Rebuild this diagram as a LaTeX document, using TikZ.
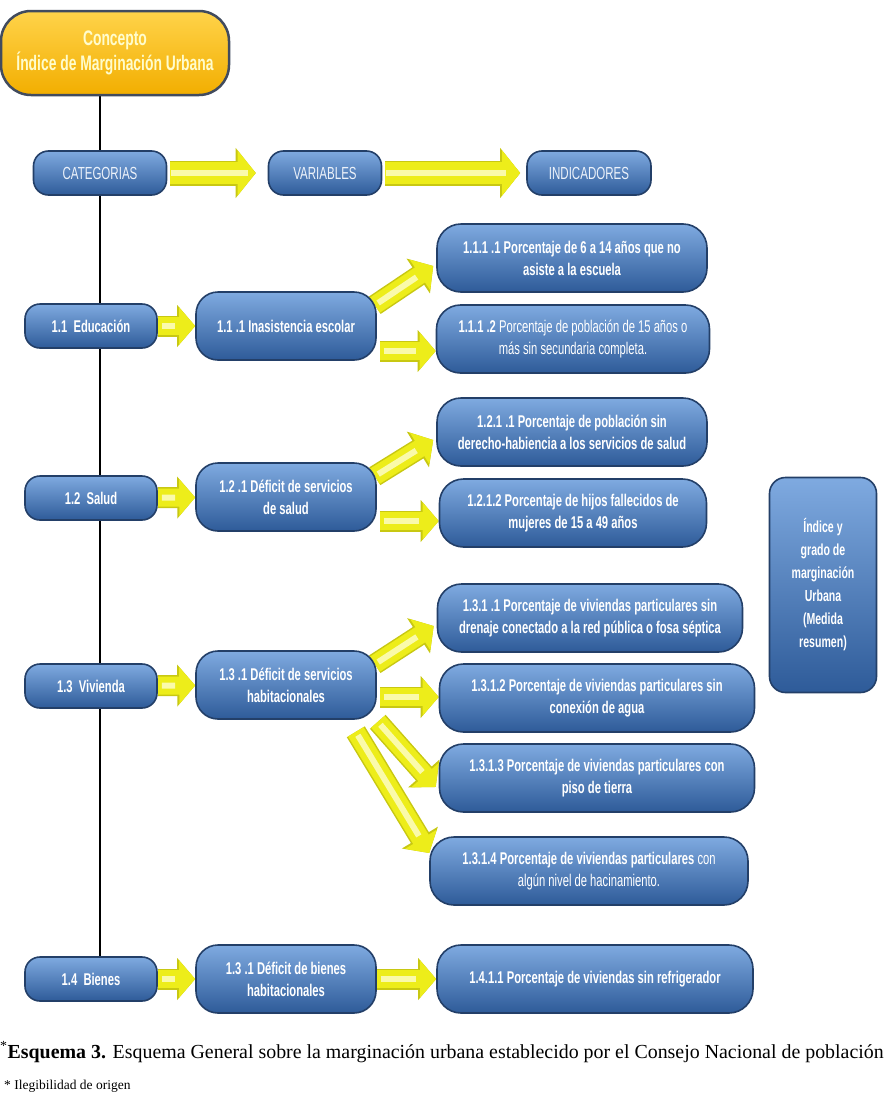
\documentclass[tikz,border=0pt]{standalone}
\usepackage{fontspec}
\setmainfont{Liberation Serif}
\newfontfamily\boxfont[FakeStretch=0.66]{Liberation Sans}
\usetikzlibrary{arrows.meta,backgrounds}

\definecolor{boxtop}{HTML}{7FAAE0}
\definecolor{boxmid}{HTML}{4A7DC0}
\definecolor{boxbot}{HTML}{2E5B99}
\definecolor{boxline}{HTML}{233F68}
\definecolor{goldtop}{HTML}{FFD34A}
\definecolor{goldbot}{HTML}{F2AE00}
\definecolor{goldline}{HTML}{414B5E}
\definecolor{arrowyel}{HTML}{EDED1A}
\definecolor{arrowedge}{HTML}{C8C812}
\definecolor{arrowlight}{HTML}{FAFAAA}

\begin{document}
\begin{tikzpicture}[x=1pt, y=-1pt,
    box/.style={rectangle, draw=boxline, line width=1.6pt, top color=boxtop, middle color=boxmid, bottom color=boxbot,
        text=white, align=center, inner sep=2pt, font=\boxfont\bfseries\fontsize{17}{22}\selectfont},
    head/.style={box, minimum width=133pt, minimum height=44pt, rounded corners=15pt,
        font=\boxfont\fontsize{17.5}{20}\selectfont, text=white!85!boxtop},
    cat/.style={box, minimum width=132pt, minimum height=44pt, rounded corners=15pt},
    var/.style={box, minimum width=180pt, minimum height=68pt, rounded corners=22pt},
    ind/.style={box, minimum height=68pt, rounded corners=24pt},
    concept/.style={rectangle, rounded corners=30pt, draw=goldline, line width=2.5pt, top color=goldtop, bottom color=goldbot,
        text=white!80!yellow, align=center, font=\boxfont\bfseries\fontsize{21}{25}\selectfont},
    yarrow/.style={draw=arrowyel, line width=18pt, -{Triangle[length=16pt,width=36pt]},
        preaction={draw=arrowedge, line width=21pt, -{Triangle[length=18pt,width=41pt]}},
        postaction={draw=arrowlight, line width=6pt, -, shorten >=20pt, shorten <=4pt}},
    bigarrow/.style={yarrow, line width=22pt, -{Triangle[length=18pt,width=44pt]},
        preaction={draw=arrowedge, line width=25pt, -{Triangle[length=20pt,width=49pt]}}}
]
    \useasboundingbox (0,0) rectangle (887,1103);

    % concept and headings
    \node[concept, minimum width=228pt, minimum height=84pt] (concepto) at (115,53) {Concepto\\Índice de Marginación Urbana};
    \node[head] (cats) at (100,173) {CATEGORIAS};
    \node[head, minimum width=113pt] (vars) at (325,173) {VARIABLES};
    \node[head, minimum width=124pt] (inds) at (589,173) {INDICADORES};

    % 1.1
    \node[cat] (edu) at (91,326) {1.1 \ Educación};
    \node[var] (inas) at (286,326) {1.1 .1 Inasistencia escolar};
    \node[ind, minimum width=270pt] (p1111) at (572,258) {1.1.1 .1 Porcentaje de 6 a 14 años que no\\asiste a la escuela};
    \node[ind, minimum width=273pt] (p1112) at (573,339) {1.1.1 .2 {\mdseries Porcentaje de población de 15 años o}\\{\mdseries más sin secundaria completa.}};

    % 1.2
    \node[cat] (sal) at (91,498) {1.2 \ Salud};
    \node[var] (sal1) at (286,497) {1.2 .1 Déficit de servicios\\de salud};
    \node[ind, minimum width=270pt] (p1211) at (572,432) {1.2.1 .1 Porcentaje de población sin\\derecho-habiencia a los servicios de salud};
    \node[ind, minimum width=267pt] (p1212) at (573,513) {1.2.1.2 Porcentaje de hijos fallecidos de\\mujeres de 15 a 49 años};

    % 1.3
    \node[cat] (viv) at (91,686) {1.3 \ Vivienda};
    \node[var] (viv1) at (286,685) {1.3 .1 Déficit de servicios\\habitacionales};
    \node[ind, minimum width=305pt] (p1311) at (590,618) {1.3.1 .1 Porcentaje de viviendas particulares sin\\drenaje conectado a la red pública o fosa séptica};
    \node[ind, minimum width=315pt] (p1312) at (597,698) {1.3.1.2 Porcentaje de viviendas particulares sin\\conexión de agua};
    \node[ind, minimum width=315pt] (p1313) at (597,778) {1.3.1.3 Porcentaje de viviendas particulares con\\piso de tierra};
    \node[ind, minimum width=318pt] (p1314) at (589,871) {1.3.1.4 Porcentaje de viviendas particulares {\mdseries con}\\{\mdseries algún nivel de hacinamiento.}};

    % 1.4
    \node[cat] (bien) at (91,979) {1.4 \ Bienes};
    \node[var] (bien1) at (286,979) {1.3 .1 Déficit de bienes\\habitacionales};
    \node[ind, minimum width=316pt] (p1411) at (595,979) {1.4.1.1 Porcentaje de viviendas sin refrigerador};

    % summary
    \node[box, minimum width=107pt, minimum height=215pt, rounded corners=16pt, font=\boxfont\bfseries\fontsize{16}{23}\selectfont]
        (indice) at (823,585) {Índice y\\grado de\\marginación\\Urbana\\(Medida\\resumen)};

    % caption
    \node[anchor=base west, inner sep=0pt, font=\fontsize{19.9}{23}\selectfont] (caption) at (0,1058)
        {\textsuperscript{*}\textbf{Esquema 3.} Esquema General sobre la marginación urbana establecido por el Consejo Nacional de población};
    \node[anchor=base west, inner sep=0pt, font=\fontsize{13.5}{15}\selectfont] (nota) at (4,1089) {* Ilegibilidad de origen};

    \begin{scope}[on background layer]
        \fill[white] (0,0) rectangle (887,1103);
        \draw[line width=2pt] (concepto.south -| cats.north) -- (bien.north -| cats.north);

        \draw[bigarrow, shorten <=3pt, shorten >=12pt] (cats) -- (vars);
        \draw[bigarrow, shorten <=3pt, shorten >=6pt] (vars) -- (inds);

        \draw[yarrow] (edu) -- (inas);
        \draw[yarrow] ([shift={(-2,14)}]inas.north east) -- ([shift={(-3,8)}]p1111.west);
        \draw[yarrow] ([shift={(3,25)}]inas.east) -- ([shift={(0,12)}]p1112.west);

        \draw[yarrow] (sal) -- (sal1);
        \draw[yarrow] ([shift={(-2,14)}]sal1.north east) -- ([shift={(-3,8)}]p1211.west);
        \draw[yarrow] ([shift={(3,24)}]sal1.east) -- ([shift={(0,8)}]p1212.west);

        \draw[yarrow] (viv) -- (viv1);
        \draw[yarrow] ([shift={(-2,14)}]viv1.north east) -- ([shift={(-3,8)}]p1311.west);
        \draw[yarrow] ([shift={(3,12)}]viv1.east) -- ([shift={(0,-1)}]p1312.west);
        \draw[yarrow] ([shift={(1,2)}]viv1.south east) -- ([shift={(-3,9)}]p1313.west);
        \draw[yarrow] ([shift={(-21,12)}]viv1.south east) -- ([shift={(0,-18)}]p1314.west);

        \draw[yarrow] (bien) -- (bien1);
        \draw[yarrow] (bien1) -- (p1411);
    \end{scope}
\end{tikzpicture}
\end{document}
